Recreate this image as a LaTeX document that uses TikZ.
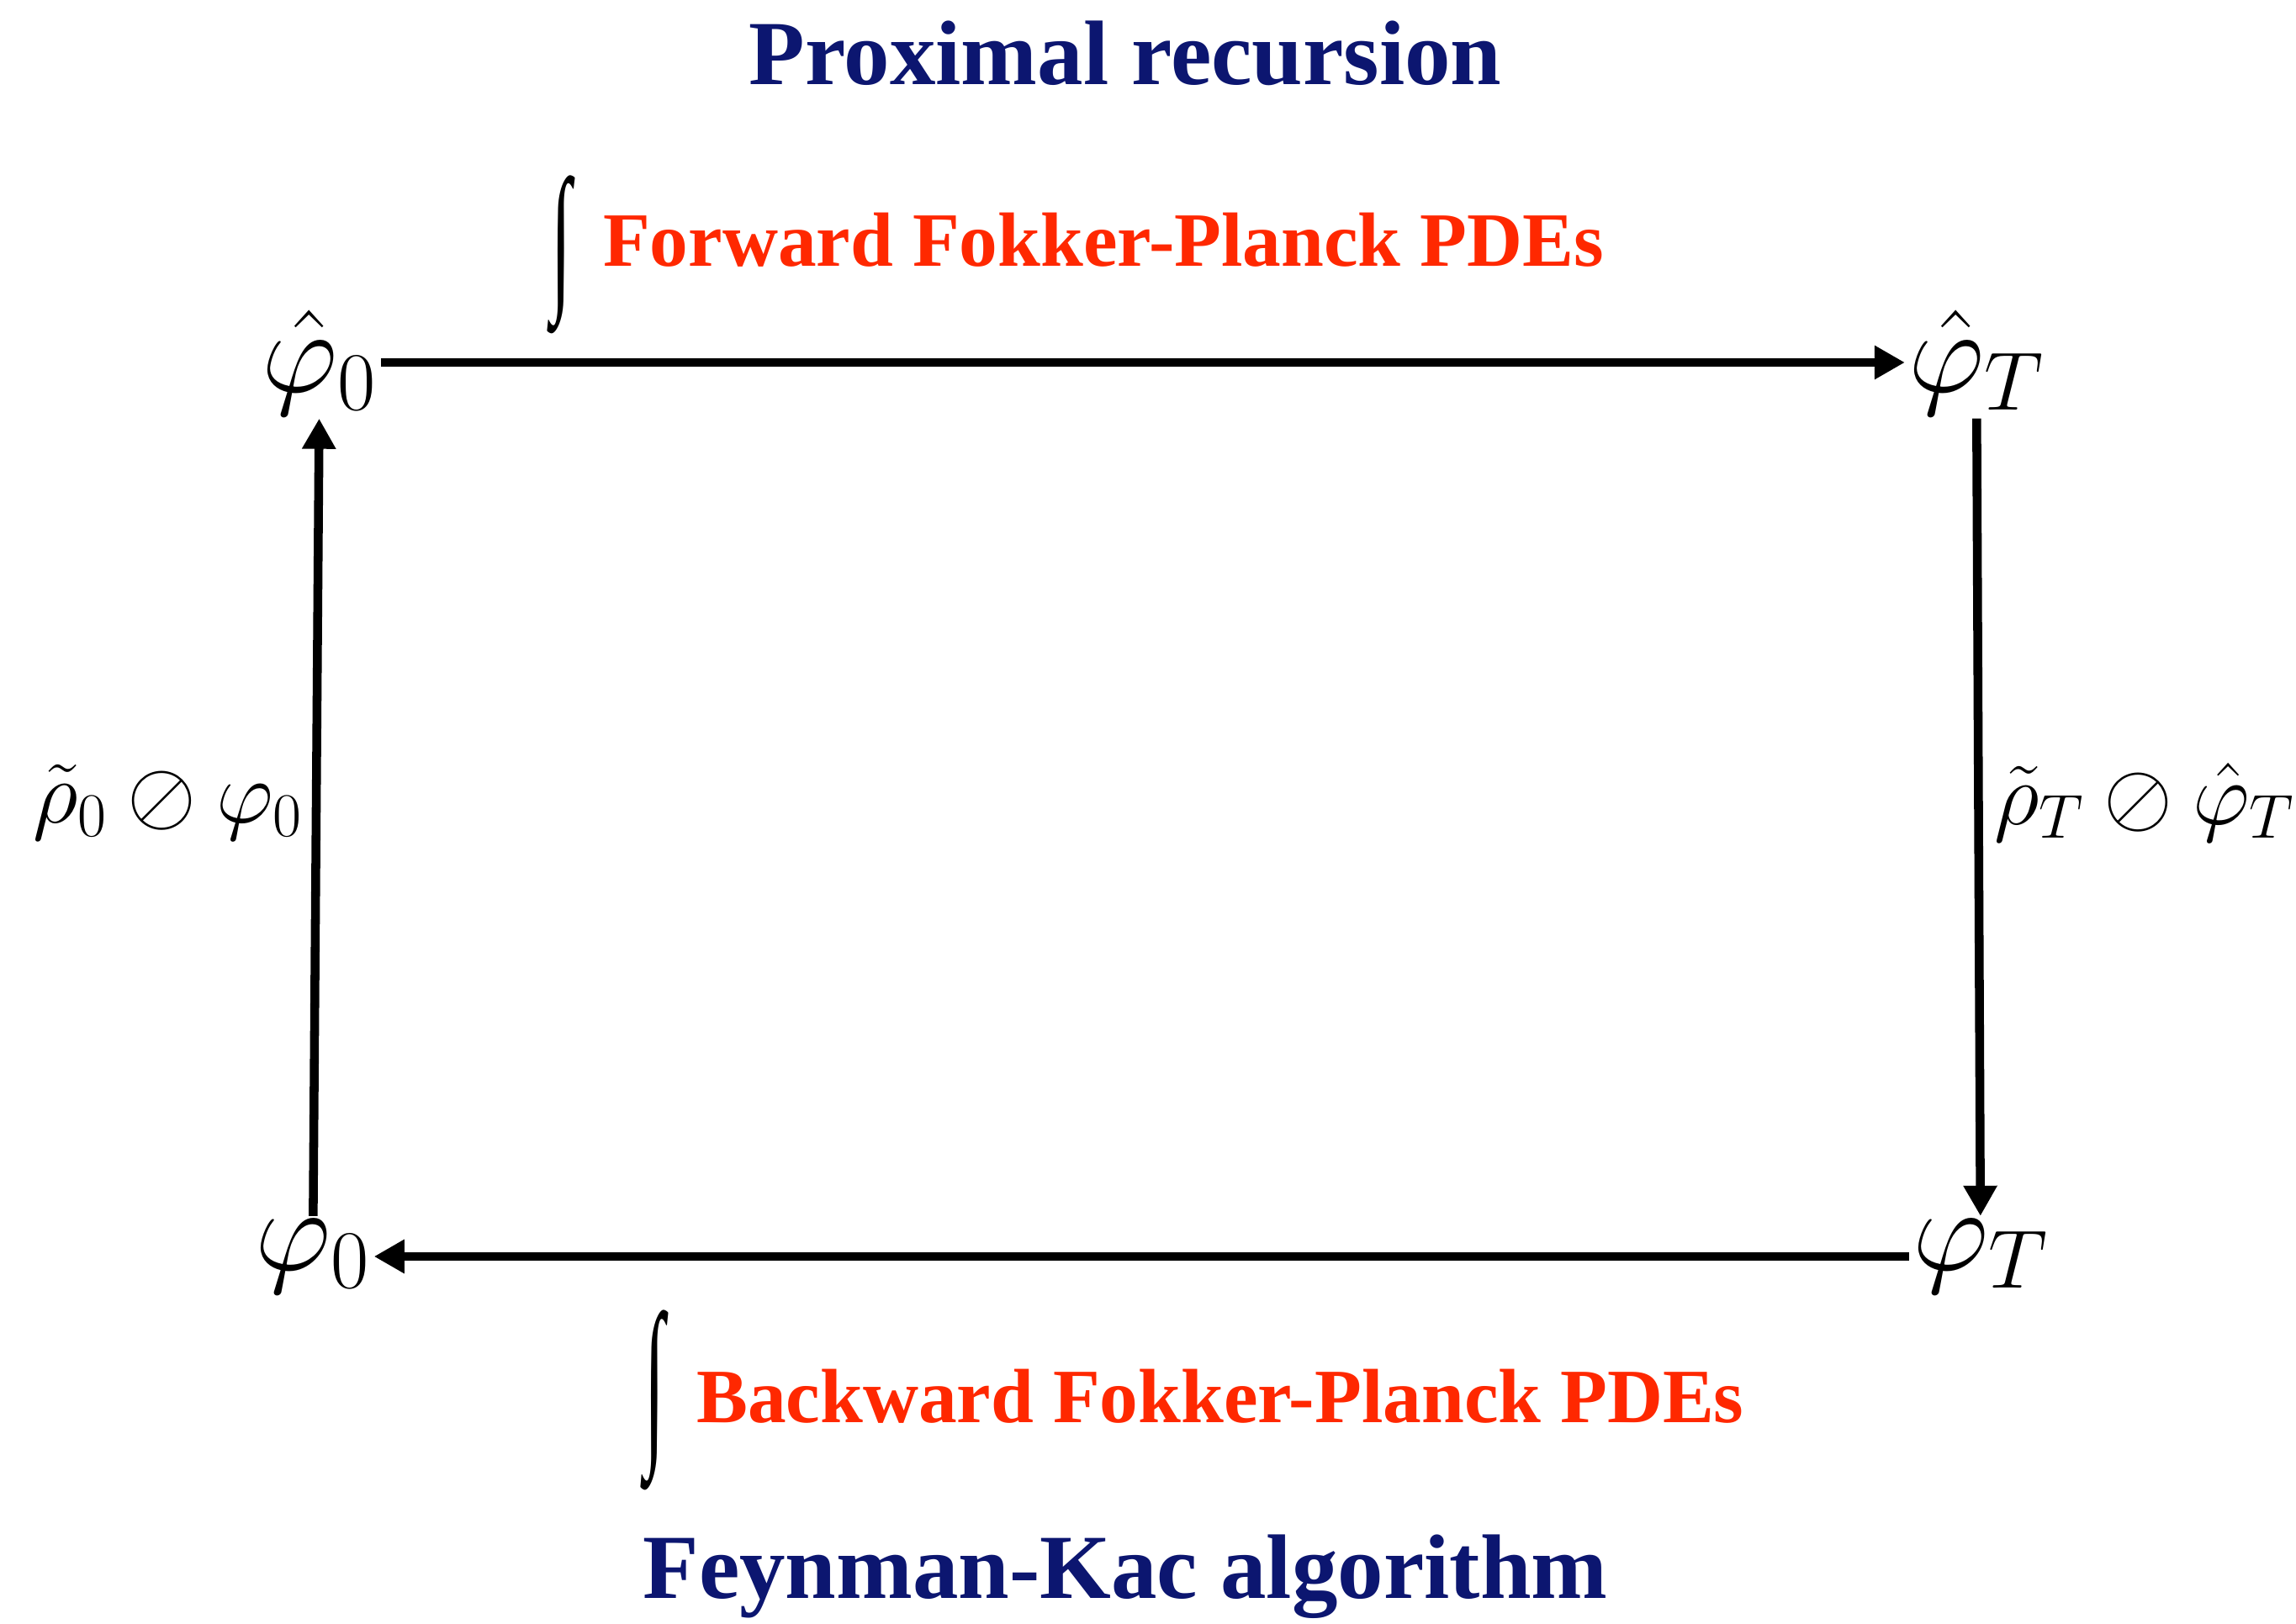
\RequirePackage{fix-cm}
\documentclass[tikz,border=0pt]{standalone}
\usepackage{fontspec}
\usepackage{amsmath,amssymb}
\usepackage{xcolor}
\usepackage{graphicx}
\setmainfont{Liberation Serif}
\usetikzlibrary{arrows.meta, positioning}
\definecolor{pdered}{RGB}{255, 40, 0}
\definecolor{headblue}{RGB}{12, 22, 112}

\begin{document}
\begin{tikzpicture}[
    corner/.style={inner sep=1pt, font=\fontsize{40}{42}\selectfont},
    arrow/.style={-{Triangle[length=3.6mm, width=3.8mm]}, line width=3pt},
    side/.style={font=\fontsize{30}{32}\selectfont},
    pde/.style={font=\fontsize{26}{28}\selectfont\bfseries, text=pdered},
    heading/.style={font=\fontsize{31}{33}\selectfont\bfseries, text=headblue},
    bigint/.style={inner sep=0pt}
]
\useasboundingbox (0,0) rectangle (27.3,19.31);

% Titluri
\node[heading, anchor=base] (prox) at (13.38,18.30) {Proximal recursion};
\node[heading, anchor=base] (fk) at (13.38,0.30) {Feynman-Kac algorithm};

% Colțuri
\node[corner] (phat0) at (3.8,15.0) {$\hat{\varphi}_0$};
\node[corner] (phatT) at (23.5,15.0) {$\hat{\varphi}_T$};
\node[corner] (phiT) at (23.55,4.37) {$\varphi_T$};
\node[corner] (phi0) at (3.72,4.37) {$\varphi_0$};

% Săgeți
\draw[arrow] (phat0) -- (phatT);
\draw[arrow] (phatT) -- (phiT);
\draw[arrow] (phiT) -- (phi0);
\draw[arrow] (phi0) -- (phat0);

% Etichete laterale
\node[side] (lside) at (2.0,9.77) {$\tilde{\rho}_0 \oslash \varphi_0$};
\node[side] (rside) at (25.5,9.77) {$\tilde{\rho}_T \oslash \hat{\varphi}_T$};

% PDE-uri
\node[bigint] (fwdint) at (6.67,16.28) {\resizebox*{0.24cm}{1.88cm}{∫}};
\node[pde, right=0.25cm of fwdint, yshift=0.18cm] (fwd) {Forward Fokker-Planck PDEs};
\node[bigint] (bwdint) at (7.78,2.66) {\resizebox*{0.24cm}{2.14cm}{∫}};
\node[pde, right=0.25cm of bwdint, yshift=0.05cm] (bwd) {Backward Fokker-Planck PDEs};

\end{tikzpicture}
\end{document}
